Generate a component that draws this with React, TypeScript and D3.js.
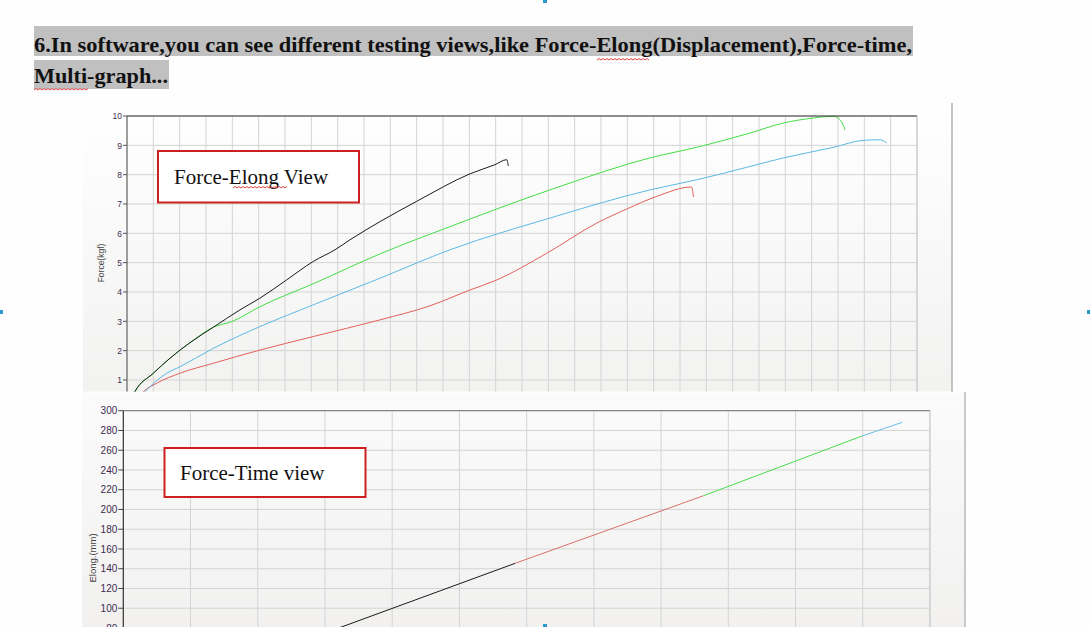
import React from "react";
import * as d3 from "d3";

// ---------- Data ----------
// Force-Elong view: x = elongation (grid divisions), y = force (kgf)
const blackX = [0, 0.3, 1.0, 1.63, 2.39, 3.28, 4.29, 5.05, 6.06, 7.07, 7.9, 8.47, 9.61, 11.0, 13.03, 13.97, 14.42, 14.48];
const blackY = [0, 0.6, 1.23, 1.74, 2.27, 2.8, 3.39, 3.79, 4.41, 5.04, 5.44, 5.78, 6.4, 7.09, 8.03, 8.34, 8.51, 8.3];

const greenX = [0, 0.3, 1.0, 1.63, 2.39, 3.28, 3.98, 5.05, 7.07, 9.61, 12.27, 16.06, 19.86, 21.76, 23.66, 24.92, 26.06, 26.82, 27.08, 27.27];
const greenY = [0, 0.6, 1.23, 1.74, 2.27, 2.8, 2.99, 3.5, 4.28, 5.3, 6.23, 7.48, 8.57, 8.96, 9.42, 9.76, 9.93, 9.99, 9.87, 9.53];

const blueX = [0.1, 0.68, 1.51, 2.01, 3.28, 5.05, 7.07, 9.61, 12.27, 16.06, 19.86, 21.76, 23.66, 24.92, 26.82, 27.96, 28.6, 28.85];
const blueY = [0, 0.6, 1.23, 1.45, 2.08, 2.82, 3.56, 4.47, 5.44, 6.52, 7.48, 7.85, 8.28, 8.57, 8.93, 9.17, 9.19, 9.08];

const redX = [0.1, 0.62, 1.13, 2.01, 3.28, 5.05, 7.07, 9.61, 11.51, 13.03, 14.04, 15.94, 17.84, 18.98, 20.12, 21.44, 21.51];
const redY = [0, 0.6, 0.89, 1.23, 1.57, 2.02, 2.48, 3.05, 3.53, 4.07, 4.41, 5.32, 6.35, 6.83, 7.26, 7.58, 7.24];

const forceTicks = [1, 2, 3, 4, 5, 6, 7, 8, 9, 10];

// Force-Time view: x = time, y = elongation (mm); segments by colour
const ftTime = [0, 58.3, 86.3, 109.9, 115.9];
const ftElong = [0, 145.5, 213.9, 274.4, 288.3];
const ftSegColors = ["#1a1a1a", "#d9706a", "#4cd94c", "#6cbde6"];
const elongTicks = [0, 20, 40, 60, 80, 100, 120, 140, 160, 180, 200, 220, 240, 260, 280, 300];

const heading1 = "6.In software,you can see different testing views,like Force-Elong(Displacement),Force-time,";
const heading2 = "Multi-graph...";

// ---------- Layout ----------
const W = 1090;
const H = 627;

const top = { x0: 127, x1: 917, y0: 116, yZero: 409.3, panelL: 83, panelR: 952, panelT: 103, panelB: 391.7 };
const bot = { x0: 123.3, x1: 930, y0: 410.7, yZero: 707, panelL: 82, panelR: 965, panelT: 393, panelB: 627 };

const xTop = d3.scaleLinear().domain([0, 30]).range([top.x0, top.x1]);
const yTop = d3.scaleLinear().domain([0, 10]).range([top.yZero, top.y0]);
const xBot = d3.scaleLinear().domain([0, 120]).range([bot.x0, bot.x1]);
const yBot = d3.scaleLinear().domain([0, 300]).range([bot.yZero, bot.y0]);

const gridColor = "#d4d4d4";
const tickColor = "#3d2b4f";

function wavy(x0: number, x1: number, y: number) {
  let d = `M${x0},${y}`;
  let up = true;
  for (let x = x0 + 2; x <= x1; x += 2) {
    d += ` L${x},${up ? y - 1.5 : y}`;
    up = !up;
  }
  return <path d={d} fill="none" stroke="#e03030" strokeWidth={0.9} />;
}

export default function App() {
  const lineTop = d3
    .line<[number, number]>()
    .x((d) => xTop(d[0]))
    .y((d) => yTop(d[1]))
    .curve(d3.curveMonotoneX);
  const mk = (xs: number[], ys: number[]) => xs.map((x, i) => [x, ys[i]] as [number, number]);
  const series = [
    { pts: mk(redX, redY), color: "#e0605a" },
    { pts: mk(blueX, blueY), color: "#5cb8e4" },
    { pts: mk(greenX, greenY), color: "#45dc45" },
    { pts: mk(blackX, blackY), color: "#1a1a1a" },
  ];

  const xGridTop = d3.range(0, 31);
  const xGridBot = d3.range(0, 121, 10);

  return (
    <svg
      width={W}
      height={H}
      style={{ position: "absolute", left: 0, top: 0, background: "#fefefe" }}
    >
      <defs>
        <linearGradient id="gTop" x1="0" y1="0" x2="0" y2="1">
          <stop offset="0" stopColor="#ffffff" />
          <stop offset="1" stopColor="#f2f2f1" />
        </linearGradient>
        <linearGradient id="gBot" x1="0" y1="0" x2="0" y2="1">
          <stop offset="0" stopColor="#fbfbfb" />
          <stop offset="1" stopColor="#f2f1f0" />
        </linearGradient>
        <clipPath id="cTop">
          <rect x={top.panelL} y={top.panelT} width={top.panelR - top.panelL} height={top.panelB - top.panelT} />
        </clipPath>
        <clipPath id="cBot">
          <rect x={bot.x0} y={bot.y0} width={bot.x1 - bot.x0} height={bot.panelB - bot.y0} />
        </clipPath>
      </defs>

      <rect x={0} y={0} width={W} height={H} fill="#fefefe" />

      {/* Heading */}
      <rect x={34} y={26} width={879} height={30} fill="#c0c0c0" />
      <rect x={34} y={60} width={135} height={29} fill="#c0c0c0" />
      <text
        x={34}
        y={51.5}
        fontFamily="'Liberation Serif', 'Times New Roman', serif"
        fontWeight="bold"
        fontSize={22}
        fill="#111"
        textLength={878}
        lengthAdjust="spacingAndGlyphs"
      >
        {heading1}
      </text>
      <text
        x={34}
        y={83}
        fontFamily="'Liberation Serif', 'Times New Roman', serif"
        fontWeight="bold"
        fontSize={22}
        fill="#111"
        textLength={134}
        lengthAdjust="spacingAndGlyphs"
      >
        {heading2}
      </text>
      {wavy(597, 650, 60)}
      {wavy(34, 88, 90)}

      {/* Top panel: Force-Elong */}
      <g clipPath="url(#cTop)">
        <rect x={top.panelL} y={top.panelT} width={top.panelR - top.panelL} height={top.panelB - top.panelT} fill="url(#gTop)" />
        {xGridTop.map((v) => (
          <line key={"gx" + v} x1={xTop(v)} x2={xTop(v)} y1={top.y0} y2={top.panelB} stroke={gridColor} strokeWidth={1} />
        ))}
        {forceTicks.map((v) => (
          <line key={"gy" + v} x1={top.x0} x2={top.x1} y1={yTop(v)} y2={yTop(v)} stroke={gridColor} strokeWidth={1} />
        ))}
        {series.map((s, i) => (
          <path key={i} d={lineTop(s.pts) || ""} fill="none" stroke={s.color} strokeWidth={1} />
        ))}
        <line x1={top.x0} x2={top.x1} y1={top.y0} y2={top.y0} stroke="#333" strokeWidth={1.2} />
        <line x1={top.x0} x2={top.x0} y1={top.y0} y2={top.panelB} stroke="#555" strokeWidth={1} />
        <line x1={top.x1} x2={top.x1} y1={top.y0} y2={top.panelB} stroke="#c8c8c8" strokeWidth={1} />
        {forceTicks.map((v) => (
          <g key={"t" + v}>
            <line x1={top.x0 - 4} x2={top.x0} y1={yTop(v)} y2={yTop(v)} stroke="#555" />
            <text
              x={top.x0 - 5}
              y={yTop(v) + 3.2}
              textAnchor="end"
              fontFamily="'Liberation Sans', Arial, sans-serif"
              fontSize={8.5}
              fill={tickColor}
            >
              {v}
            </text>
          </g>
        ))}
        <text
          transform={`translate(104,${263}) rotate(-90)`}
          textAnchor="middle"
          fontFamily="'Liberation Sans', Arial, sans-serif"
          fontSize={8.5}
          fill="#444"
        >
          Force(kgf)
        </text>
      </g>
      <line x1={top.panelR} x2={top.panelR} y1={top.panelT} y2={top.panelB} stroke="#b0b0b0" strokeWidth={1.5} />

      {/* Force-Elong label box */}
      <rect x={158} y={151} width={201} height={51.5} fill="#ffffff" stroke="#cc2020" strokeWidth={2} />
      <text x={174} y={183.5} fontFamily="'Liberation Serif', 'Times New Roman', serif" fontSize={21} fill="#111">
        Force-Elong View
      </text>
      {wavy(233, 288, 188)}

      {/* Bottom panel: Force-Time */}
      <rect x={bot.panelL} y={bot.panelT} width={bot.panelR - bot.panelL} height={bot.panelB - bot.panelT} fill="url(#gBot)" />
      <line x1={bot.panelR} x2={bot.panelR} y1={bot.panelT - 1} y2={bot.panelB} stroke="#b8b8b8" strokeWidth={1.5} />
      <g clipPath="url(#cBot)">
        {xGridBot.map((v) => (
          <line key={"bx" + v} x1={xBot(v)} x2={xBot(v)} y1={bot.y0} y2={bot.panelB} stroke={gridColor} strokeWidth={1} />
        ))}
        {elongTicks.map((v) => (
          <line key={"by" + v} x1={bot.x0} x2={bot.x1} y1={yBot(v)} y2={yBot(v)} stroke={gridColor} strokeWidth={1} />
        ))}
        {ftSegColors.map((c, i) => (
          <line
            key={"seg" + i}
            x1={xBot(ftTime[i])}
            y1={yBot(ftElong[i])}
            x2={xBot(ftTime[i + 1])}
            y2={yBot(ftElong[i + 1])}
            stroke={c}
            strokeWidth={1}
          />
        ))}
      </g>
      <line x1={bot.x0} x2={bot.x1} y1={bot.y0} y2={bot.y0} stroke="#888" strokeWidth={1.2} />
      <line x1={bot.x0} x2={bot.x0} y1={bot.y0} y2={bot.panelB} stroke="#333" strokeWidth={1.2} />
      <line x1={bot.x1} x2={bot.x1} y1={bot.y0} y2={bot.panelB} stroke="#c0c0c0" strokeWidth={1} />
      {elongTicks
        .filter((v) => yBot(v) < bot.panelB + 6)
        .map((v) => (
          <g key={"bt" + v}>
            <line x1={bot.x0 - 5} x2={bot.x0} y1={yBot(v)} y2={yBot(v)} stroke="#444" />
            <text
              x={bot.x0 - 6}
              y={yBot(v) + 3.6}
              textAnchor="end"
              fontFamily="'Liberation Sans', Arial, sans-serif"
              fontSize={10}
              fill={tickColor}
            >
              {v}
            </text>
          </g>
        ))}
      <text
        transform={`translate(96,558) rotate(-90)`}
        textAnchor="middle"
        fontFamily="'Liberation Sans', Arial, sans-serif"
        fontSize={9.5}
        fill="#444"
      >
        Elong.(mm)
      </text>

      {/* Force-Time label box */}
      <rect x={164.5} y={448} width={201} height={49} fill="#ffffff" stroke="#cc2020" strokeWidth={2} />
      <text x={180} y={480} fontFamily="'Liberation Serif', 'Times New Roman', serif" fontSize={21} fill="#111">
        Force-Time view
      </text>

      {/* small selection handles */}
      <rect x={543} y={0} width={4} height={3} fill="#2a9ad0" />
      <rect x={0} y={310} width={3} height={4} fill="#2a9ad0" />
      <rect x={1087} y={310} width={3} height={4} fill="#2a9ad0" />
      <rect x={543} y={624} width={4} height={3} fill="#2a9ad0" />
    </svg>
  );
}
